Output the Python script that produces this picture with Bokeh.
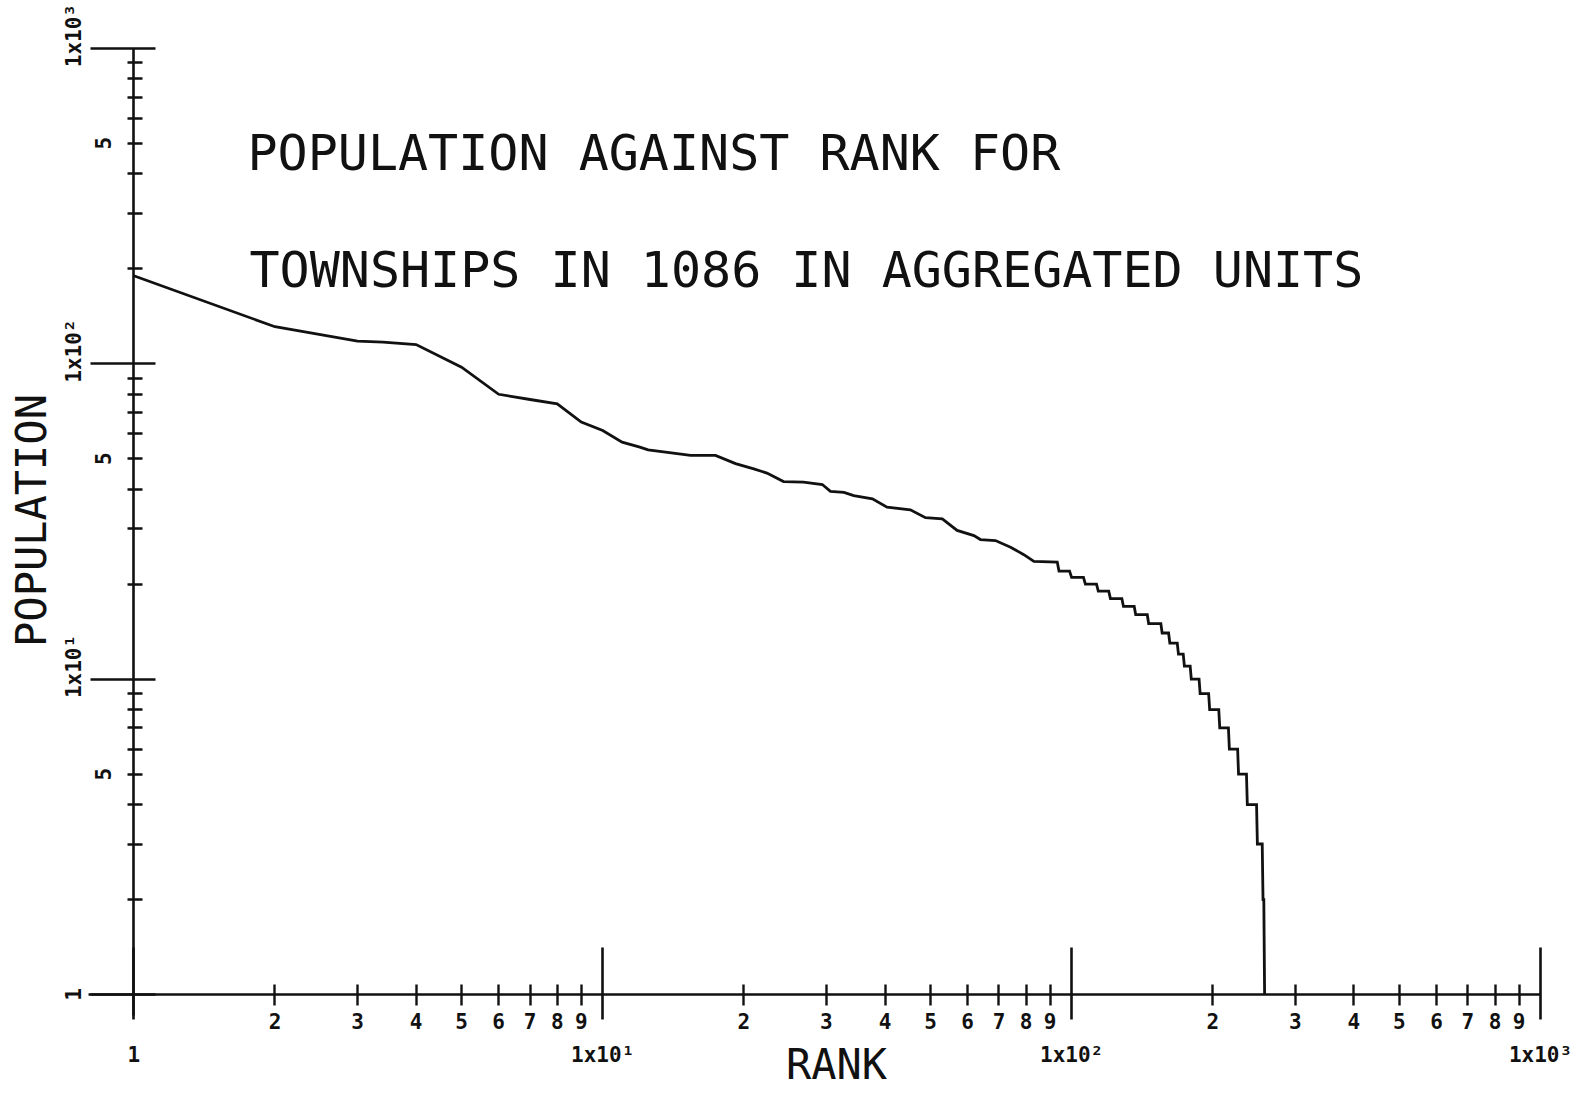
import math
from bokeh.plotting import figure
from bokeh.models import LogAxis, FixedTicker, Range1d, Label
from bokeh.embed import file_html
from bokeh.resources import INLINE

# ---------------- data ----------------
# upper part of the rank-size curve (rank, population)
head_rank = [1, 2, 3, 3.4, 4, 5, 6, 7, 8, 9, 10, 11, 12, 12.5, 15.4, 17.4, 19.2, 21,
             22.4, 24.3, 26.8, 29.4, 30.6, 32.7, 34.3, 37.6, 40.4, 45.3, 48.8, 53,
             57, 61.9, 63.9, 68.8, 74.1, 79.1, 83.1, 93.2]
head_pop = [190, 131, 118, 117, 115, 97.5, 80, 77, 74.6, 65.3, 61.4, 56.4, 54.4, 53.3,
            51.2, 51.2, 48.2, 46.4, 45, 42.3, 42.1, 41.4, 39.4, 39.1, 38.2, 37.3, 35.1,
            34.4, 32.5, 32.2, 29.6, 28.5, 27.7, 27.5, 26.2, 24.8, 23.6, 23.5]
# tail: integer population levels with first and last rank on each level
tail_pop = [22, 21, 20, 19, 18, 17, 16, 15, 14, 13, 12, 11, 10, 9, 8, 7, 6, 5, 4, 3, 2, 1]
tail_first = [94, 100, 107, 114, 121, 129, 137, 146, 156, 162, 169, 174, 180, 188, 197,
              207, 217, 227, 237, 249, 256, 258]
tail_last = [99, 106, 113, 120, 128, 136, 145, 155, 161, 168, 173, 179, 187, 196, 206,
             216, 226, 236, 248, 255, 257, 258]

# tick labels
decades = [1, 10, 100, 1000]
decade_labels = ["1", "1x10\u00b9", "1x10\u00b2", "1x10\u00b3"]
y_decade_labels = ["1", "\u00a0\u00a01x10\u00b9", "\u00a0\u00a01x10\u00b2",
                   "\u00a0\u00a01x10\u00b3"]
minor_digits = [2, 3, 4, 5, 6, 7, 8, 9]
y_minor_labelled = [5]

title_lines = ["POPULATION AGAINST RANK FOR", "TOWNSHIPS IN 1086 IN AGGREGATED UNITS"]
x_title = "RANK"
y_title = "POPULATION"

# ---------------- layout ----------------
W, H = 1578, 1100
X0, XD = 133.3, 468.9   # pixel of rank 1, pixels per decade
Y0, YD = 994.0, 315.4   # pixel of population 1, pixels per decade


def px2x(px):
    return 10 ** ((px - X0) / XD)


def py2y(py):
    return 10 ** ((Y0 - py) / YD)


FONT = "DejaVu Sans Mono"
INK = "#111111"
TICK_FS = "21px"

p = figure(width=W, height=H, x_axis_type="log", y_axis_type="log",
           x_range=Range1d(px2x(0), px2x(W)), y_range=Range1d(py2y(H), py2y(0)),
           x_axis_location=None, y_axis_location=None,
           toolbar_location=None, output_backend="svg",
           min_border=0, outline_line_color=None,
           background_fill_color="white", border_fill_color="white")
p.grid.grid_line_color = None

minor_pos = [d * 10 ** k for k in range(3) for d in minor_digits]

# x axis: decades with ticks + minor ticks
xa = LogAxis(ticker=FixedTicker(ticks=decades, minor_ticks=minor_pos), fixed_location=1,
             bounds=(0.8, 1000.5),
             axis_line_width=2.6, axis_line_color=INK,
             major_tick_in=47, major_tick_out=25, major_tick_line_width=2.6,
             major_tick_line_color=INK,
             minor_tick_in=10, minor_tick_out=11, minor_tick_line_width=2.4,
             minor_tick_line_color=INK,
             major_label_overrides={float(v): t for v, t in zip(decades, decade_labels)},
             major_label_standoff=23, major_label_text_font=FONT,
             major_label_text_font_style="bold",
             major_label_text_font_size=TICK_FS, major_label_text_color=INK)
# x axis: digit labels for minor ticks
xl = LogAxis(ticker=FixedTicker(ticks=minor_pos, minor_ticks=[]), fixed_location=1,
             axis_line_color=None, major_tick_line_color=None, minor_tick_line_color=None,
             major_tick_in=0, major_tick_out=0,
             major_label_overrides={float(v): str(d) for v, d in
                                    zip(minor_pos, minor_digits * 3)},
             major_label_standoff=18, major_label_text_font=FONT,
             major_label_text_font_style="bold",
             major_label_text_font_size=TICK_FS, major_label_text_color=INK)
p.add_layout(xa, "below")
p.add_layout(xl, "below")

# y axis
ya = LogAxis(ticker=FixedTicker(ticks=decades, minor_ticks=minor_pos), fixed_location=1,
             bounds=(0.858, 1000.5),
             axis_line_width=2.6, axis_line_color=INK,
             major_tick_in=22, major_tick_out=43, major_tick_line_width=2.6,
             major_tick_line_color=INK,
             minor_tick_in=9, minor_tick_out=6, minor_tick_line_width=2.4,
             minor_tick_line_color=INK,
             major_label_overrides={float(v): t for v, t in zip(decades, y_decade_labels)},
             major_label_orientation="vertical",
             major_label_standoff=5, major_label_text_font=FONT,
             major_label_text_font_style="bold",
             major_label_text_font_size=TICK_FS, major_label_text_color=INK)
ylab_vals = [d * 10 ** k for k in range(3) for d in y_minor_labelled]
yl = LogAxis(ticker=FixedTicker(ticks=ylab_vals, minor_ticks=[]), fixed_location=1,
             axis_line_color=None, major_tick_line_color=None, minor_tick_line_color=None,
             major_tick_in=0, major_tick_out=0,
             major_label_overrides={float(v): str(d) for v, d in
                                    zip(ylab_vals, y_minor_labelled * 3)},
             major_label_orientation="vertical",
             major_label_standoff=23, major_label_text_font=FONT,
             major_label_text_font_style="bold",
             major_label_text_font_size=TICK_FS, major_label_text_color=INK)
p.add_layout(ya, "left")
p.add_layout(yl, "left")

# curve
xs = list(head_rank)
ys = list(head_pop)
for pop, a, b in zip(tail_pop, tail_first, tail_last):
    xs += [a, b]
    ys += [pop, pop]
p.line(xs, ys, line_color=INK, line_width=2.8, line_join="miter")

# titles
p.add_layout(Label(x=px2x(247), y=py2y(152), text=title_lines[0], text_font=FONT,
                   text_font_size="50px", text_baseline="middle", text_align="left",
                   text_color=INK))
p.add_layout(Label(x=px2x(249), y=py2y(269), text=title_lines[1], text_font=FONT,
                   text_font_size="50px", text_baseline="middle", text_align="left",
                   text_color=INK))
p.add_layout(Label(x=px2x(836), y=py2y(1064), text=x_title, text_font=FONT,
                   text_font_size="42px", text_baseline="middle", text_align="center",
                   text_color=INK))
p.add_layout(Label(x=px2x(30.5), y=py2y(520), text=y_title, text_font=FONT,
                   text_font_size="42px", text_baseline="middle", text_align="center",
                   angle=math.pi / 2, text_color=INK))

open("out.html", "w").write(file_html(p, INLINE))
